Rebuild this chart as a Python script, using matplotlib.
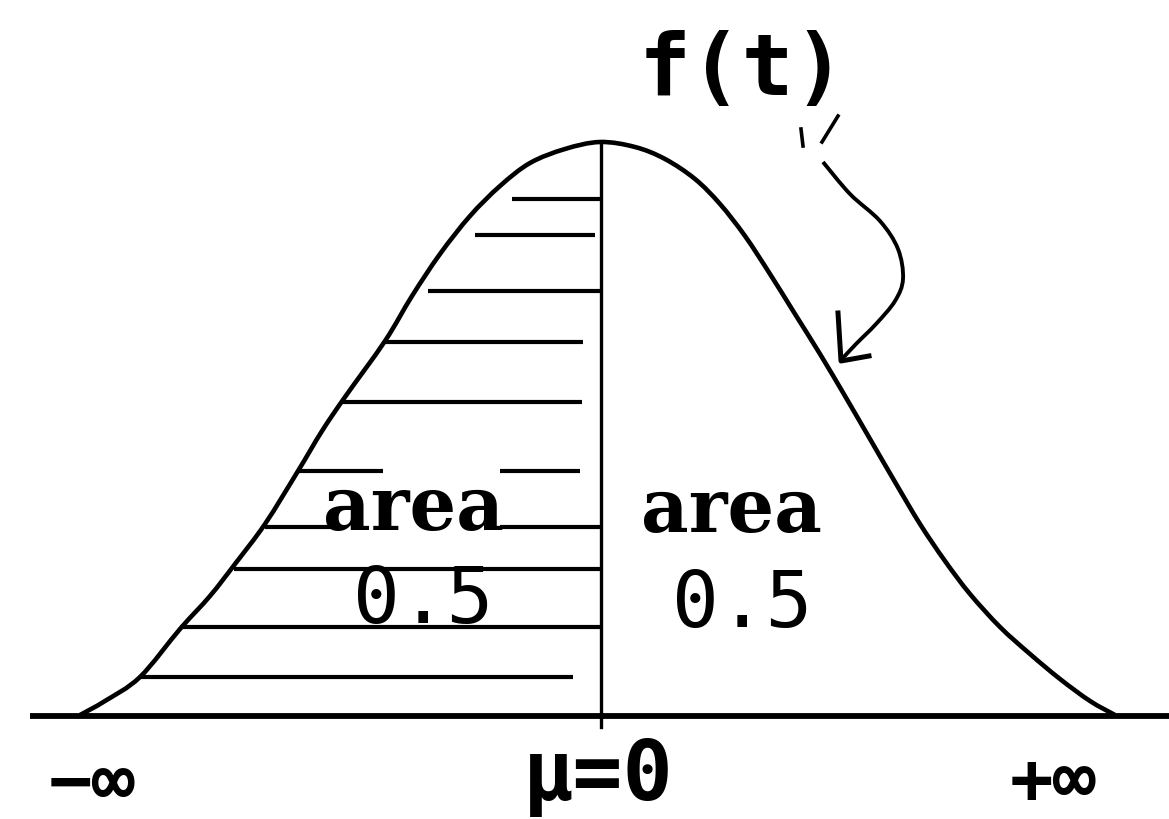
import matplotlib
matplotlib.use('Agg')
import matplotlib.pyplot as plt
from matplotlib.path import Path
from matplotlib.patches import PathPatch

# outline of the density curve, drawn in picture units (x right, y down)
curve_x = [80, 105, 140, 180, 210, 235, 265, 298, 322, 345, 385, 412, 440, 470, 500, 530, 565, 600,
           635, 665, 695, 720, 745, 770, 795, 820, 845, 870, 895, 920, 945, 970, 1000, 1030, 1060, 1090, 1115]
curve_y = [716, 702, 678, 630, 597, 565, 525, 472, 432, 398, 342, 297, 255, 217, 187, 164, 150, 143,
           148, 160, 180, 205, 237, 275, 315, 355, 397, 440, 483, 525, 562, 595, 628, 655, 680, 702, 716]

# horizontal shading strokes in the left half: (y, list of (x_start, x_end))
hatch_y = [200, 236, 292, 343, 403, 472, 528, 570, 628, 678]
hatch_spans = [
    [(512, 602)],
    [(475, 595)],
    [(428, 600)],
    [(385, 583)],
    [(342, 582)],
    [(298, 383), (500, 580)],
    [(265, 335), (500, 600)],
    [(234, 600)],
    [(180, 600)],
    [(140, 573)],
]

# hand drawn pointer from the f(t) label to the curve
arrow_x = [823, 850, 880, 898, 903, 895, 876, 856, 842]
arrow_y = [163, 195, 222, 250, 280, 302, 325, 345, 360]

mu_x = 601
base_y = 717
axis_labels = ['\u2212\u221e', '\u03bc=0', '+\u221e']
axis_label_x = [92, 598, 1053]


def smooth_path(xs, ys):
    # Catmull-Rom through the points, written out as cubic Bezier segments
    pts = list(zip(xs, ys))
    verts = [pts[0]]
    codes = [Path.MOVETO]
    for i in range(len(pts) - 1):
        p0 = pts[i - 1] if i > 0 else pts[i]
        p1 = pts[i]
        p2 = pts[i + 1]
        p3 = pts[i + 2] if i + 2 < len(pts) else pts[i + 1]
        c1 = (p1[0] + (p2[0] - p0[0]) / 6, p1[1] + (p2[1] - p0[1]) / 6)
        c2 = (p2[0] - (p3[0] - p1[0]) / 6, p2[1] - (p3[1] - p1[1]) / 6)
        verts += [c1, c2, p2]
        codes += [Path.CURVE4] * 3
    return Path(verts, codes)


fig = plt.figure(figsize=(11.69, 8.2), dpi=100)
ax = fig.add_axes([0, 0, 1, 1])
ax.set_xlim(0, 1169)
ax.set_ylim(820, 0)
ax.axis('off')

ink = 'black'

# baseline and curve
ax.plot([30, 1169], [base_y, base_y], color=ink, lw=4.2, solid_capstyle='butt')
ax.add_patch(PathPatch(smooth_path(curve_x, curve_y), fill=False, edgecolor=ink, lw=3.3,
                       joinstyle='round'))

# mean line
ax.plot([mu_x, mu_x], [143, 728], color=ink, lw=2.4)

# shading
for y, spans in zip(hatch_y, hatch_spans):
    for x0, x1 in spans:
        ax.plot([x0, x1], [y, y], color=ink, lw=3.0, solid_capstyle='butt')

# pointer
ax.plot([838, 822], [117, 143], color=ink, lw=2.6)
ax.plot([801, 803], [130, 147], color=ink, lw=2.6)
ax.add_patch(PathPatch(smooth_path(arrow_x, arrow_y), fill=False, edgecolor=ink, lw=2.8))
ax.plot([838, 841, 869], [314, 362, 357], color=ink, lw=3.6, solid_joinstyle='round')

# labels
mono = ['DejaVu Sans Mono', 'DejaVu Sans']
ax.text(742, 72, 'f(t)', ha='center', va='center', fontsize=62, fontweight='bold', family=mono)

ax.text(413, 530, 'area', ha='center', va='baseline', fontsize=53, family='DejaVu Serif', fontweight='bold')
ax.text(731, 532, 'area', ha='center', va='baseline', fontsize=53, family='DejaVu Serif', fontweight='bold')
ax.text(423, 623, '0.5', ha='center', va='baseline', fontsize=56, family=mono)
ax.text(742, 627, '0.5', ha='center', va='baseline', fontsize=56, family=mono)

ax.text(axis_label_x[0], 786, axis_labels[0], ha='center', va='center', fontsize=52,
        fontweight='bold', family=mono)
ax.text(axis_label_x[1], 800, axis_labels[1], ha='center', va='baseline', fontsize=60,
        fontweight='bold', family=mono)
ax.text(axis_label_x[2], 784, axis_labels[2], ha='center', va='center', fontsize=52,
        fontweight='bold', family=mono)

plt.savefig('out.png', dpi=100)
plt.close()
